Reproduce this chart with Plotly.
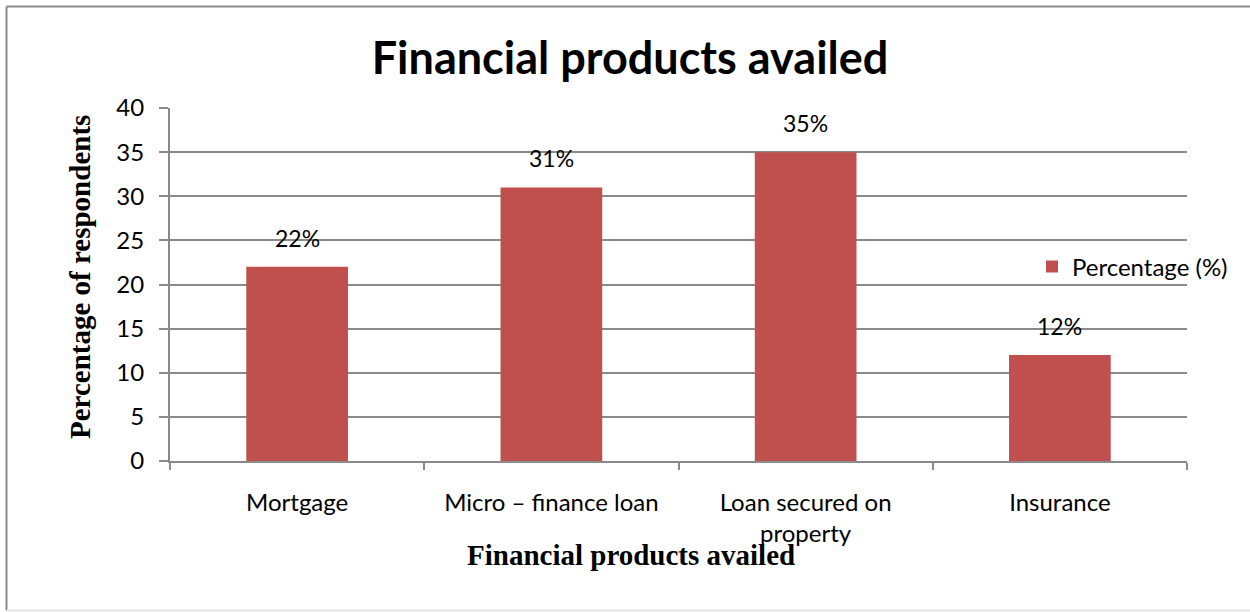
import plotly.graph_objects as go

categories = ["Mortgage", "Micro – finance loan", "Loan secured on<br>property", "Insurance"]
percentages = [22, 31, 35, 12]
value_labels = ["22%", "31%", "35%", "12%"]
y_ticks = [0, 5, 10, 15, 20, 25, 30, 35, 40]

W, H = 1250, 612
L, R, T, B = 170, 63, 108, 151
plot_w = W - L - R
plot_h = H - T - B

GRID = "#8a8a8a"
BAR = "#C0504D"
SANS = "Lato, 'Open Sans', sans-serif"
SERIF = "'Liberation Serif', 'Times New Roman', serif"


def px(x):
    return (x - L) / plot_w


def py(y):
    return (H - B - y) / plot_h


fig = go.Figure()
fig.add_trace(go.Bar(
    x=categories,
    y=percentages,
    name="Percentage (%)",
    marker=dict(color=BAR, line=dict(width=0)),
    showlegend=True,
))

# value labels above each bar
for c, v, t in zip(categories, percentages, value_labels):
    fig.add_annotation(x=c, y=v, text=t, showarrow=False, yanchor="bottom",
                       yshift=13, font=dict(family=SANS, size=23, color="#000"))

# axis titles
fig.add_annotation(xref="paper", yref="paper", x=px(631), y=py(573),
                   text="<b>Financial products availed</b>", showarrow=False,
                   font=dict(family=SERIF, size=29, color="#000"))
fig.add_annotation(xref="paper", yref="paper", x=px(62), y=py(277),
                   text="<b>Percentage of respondents</b>", showarrow=False, textangle=-90,
                   font=dict(family=SERIF, size=29, color="#000"))

# chart border: dark top and left edges, faint bottom edge
fig.add_shape(type="line", xref="paper", yref="paper", x0=px(6.5), x1=px(W + 10),
              y0=py(6.5), y1=py(6.5), line=dict(color="#8a8a8a", width=2), layer="below")
fig.add_shape(type="line", xref="paper", yref="paper", x0=px(6.5), x1=px(6.5),
              y0=py(6.5), y1=py(610.5), line=dict(color="#8a8a8a", width=2), layer="below")
fig.add_shape(type="line", xref="paper", yref="paper", x0=px(6.5), x1=px(W + 10),
              y0=py(610.5), y1=py(610.5), line=dict(color="#e2e2e2", width=2), layer="below")

fig.update_layout(
    width=W, height=H,
    margin=dict(l=L, r=R, t=T, b=B),
    paper_bgcolor="white", plot_bgcolor="white",
    bargap=0.6,
    title=dict(text="<b>Financial products availed</b>", x=630 / W, xanchor="center",
               y=1 - 58 / H, yanchor="middle",
               font=dict(family=SANS, size=45, color="#000")),
    legend=dict(x=px(1032), xanchor="left", y=py(267), yanchor="middle",
                bgcolor="rgba(0,0,0,0)", font=dict(family=SANS, size=24, color="#000"),
                itemwidth=30),
    xaxis=dict(
        showline=True, linecolor=GRID, linewidth=2,
        ticks="outside", tickson="boundaries", ticklen=7, tickcolor=GRID, tickwidth=2,
        ticklabelstandoff=19,
        tickfont=dict(family=SANS, size=24, color="#000"),
        showgrid=False,
    ),
    yaxis=dict(
        range=[0, 40], tickvals=y_ticks,
        showline=True, linecolor=GRID, linewidth=2,
        ticks="outside", ticklen=9, tickcolor=GRID, tickwidth=2,
        ticklabelstandoff=10,
        showgrid=True, gridcolor=GRID, gridwidth=2,
        zeroline=False,
        tickfont=dict(family=SANS, size=24, color="#000"),
    ),
)

fig.write_html("out.html")
